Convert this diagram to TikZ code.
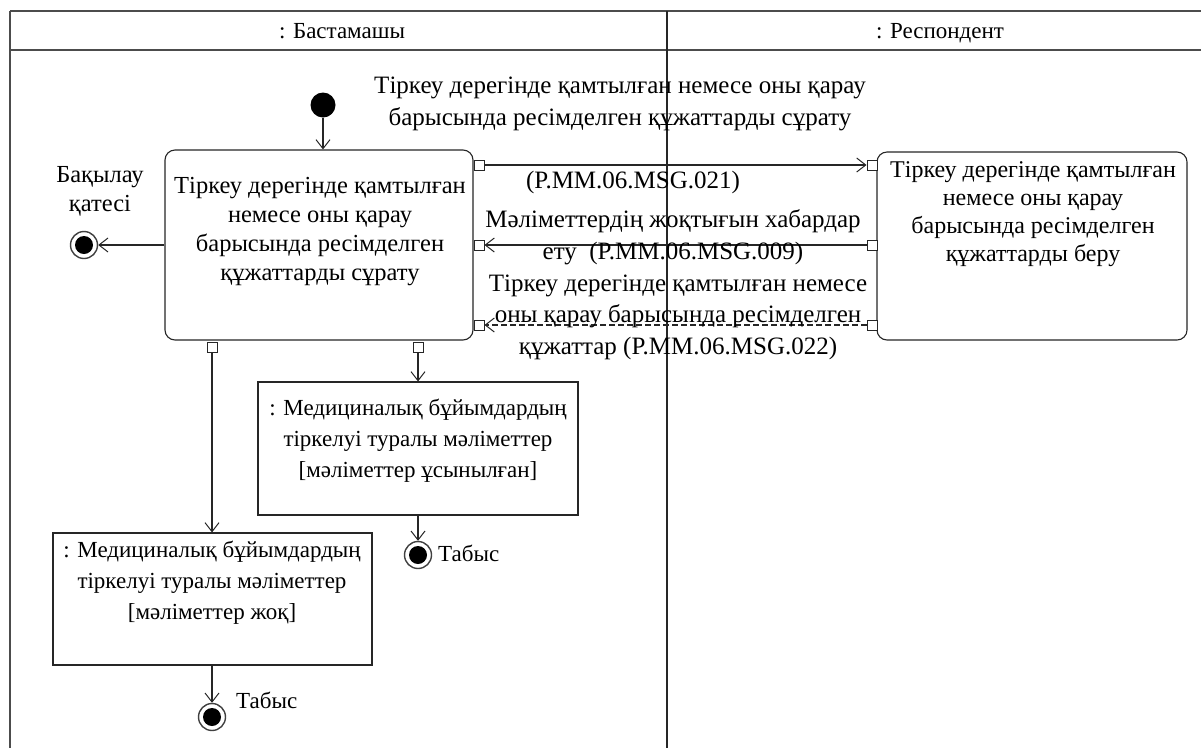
\documentclass[tikz,border=0pt]{standalone}
\usepackage{fontspec}
\setmainfont{Liberation Serif}
\usetikzlibrary{arrows.meta}
\begin{document}
\begin{tikzpicture}[x=1pt,y=-1pt,
  ln/.style={draw=black!85, line width=1.1pt},
  arr/.style={ln, -{Straight Barb[length=9pt,width=14pt,line width=1pt]}},
  actbox/.style={ln, rounded corners=10pt, fill=white, inner sep=0pt},
  objbox/.style={ln, fill=white, inner sep=0pt},
  pin/.style={draw=black!85, line width=1pt, fill=white, minimum size=10pt, inner sep=0pt},
  txt/.style={font=\fontsize{24.5}{29}\selectfont, align=center, inner sep=0pt},
  btxt/.style={font=\fontsize{24}{28}\selectfont, align=center, inner sep=0pt},
  mtxt/.style={font=\fontsize{25}{31.5}\selectfont, align=center, inner sep=0pt},
  otxt/.style={font=\fontsize{23}{31}\selectfont, align=center, inner sep=0pt},
  hdr/.style={font=\fontsize{23}{26}\selectfont, inner sep=0pt, anchor=base},
  finalo/.style={circle, draw=black!75, line width=1.4pt, fill=white, minimum size=27pt, inner sep=0pt},
  finali/.style={circle, fill=black, minimum size=18pt, inner sep=0pt},
  initn/.style={circle, fill=black, minimum size=25pt, inner sep=0pt}
]
\useasboundingbox (0,0) rectangle (1201,748);
% swimlane frame
\coordinate (tl) at (10,11);
\coordinate (tr) at (1201,11);
\coordinate (hl) at (10,50);
\coordinate (hr) at (1201,50);
\coordinate (bl) at (10,748);
\coordinate (dt) at (667,11);
\coordinate (db) at (667,748);
\draw[ln, line width=1.4pt, draw=black!70] (tl) -- (tr);
\draw[ln, line width=1.4pt, draw=black!70] (hl) -- (hr);
\draw[ln, line width=1.4pt, draw=black!70] (tl) -- (bl);
\draw[ln, line width=1.2pt] (dt) -- (db);
\node[hdr] (h1) at (342,38) {: Бастамашы};
\node[hdr] (h2) at (940,38) {: Респондент};

% initial node
\node[initn] (I) at (323,105) {};
% activity A
\node[actbox, minimum width=308pt, minimum height=190pt] (A) at (319,245) {};
\node[txt] (At) at (320,232) {Тіркеу дерегінде қамтылған\\немесе оны қарау\\барысында ресімделген\\құжаттарды сұрату};
% activity B
\node[actbox, minimum width=310pt, minimum height=188pt] (B) at (1032,246) {};
\node[btxt] (Bt) at (1033,214) {Тіркеу дерегінде қамтылған\\немесе оны қарау\\барысында ресімделген\\құжаттарды беру};

% pins
\node[pin] (pa1) at (479,165) {};
\node[pin] (pa2) at (479,245) {};
\node[pin] (pa3) at (479,325) {};
\node[pin] (pb1) at (872,165) {};
\node[pin] (pb2) at (872,245) {};
\node[pin] (pb3) at (872,325) {};
\node[pin] (pc) at (212,347) {};
\node[pin] (pd) at (418,347) {};

% final left
\node[finalo] (F1) at (84,245) {};
\node[finali] (F1i) at (84,245) {};
\node[txt] (F1t) at (100,191) {Бақылау\\қатесі};

\draw[arr] (I) -- (A.north -| I);
\draw[arr] (A.west |- F1) -- (F1);

% messages
\draw[arr] (pa1) -- (pb1);
\draw[arr] (pb2) -- (pa2);
\draw[arr, dashed, dash pattern=on 6pt off 3pt] (pb3) -- (pa3);
\node[mtxt] (m1) at (620,104) {Тіркеу дерегінде қамтылған немесе оны қарау\\барысында ресімделген құжаттарды сұрату};
\node[mtxt] (m1b) at (633,182) {(P.MM.06.MSG.021)};
\node[mtxt] (m2) at (673,237) {Мәліметтердің жоқтығын хабардар\\ету\ \ (P.MM.06.MSG.009)};
\node[mtxt] (m3) at (678,317) {Тіркеу дерегінде қамтылған немесе\\оны қарау барысында ресімделген\\құжаттар (P.MM.06.MSG.022)};

% object D
\node[objbox, minimum width=320pt, minimum height=133pt] (D) at (418,448.5) {};
\node[otxt] (Dt) at (418,441) {: Медициналық бұйымдардың\\тіркелуі туралы мәліметтер\\{}[мәліметтер ұсынылған]};
% object C
\node[objbox, minimum width=319pt, minimum height=132pt] (C) at (212.5,599) {};
\node[otxt] (Ct) at (212,583) {: Медициналық бұйымдардың\\тіркелуі туралы мәліметтер\\{}[мәліметтер жоқ]};

\draw[arr] (pc) -- (C.north -| pc);
\draw[arr] (pd) -- (D.north -| pd);

% finals bottom
\node[finalo] (F2) at (418,555) {};
\node[finali] (F2i) at (418,555) {};
\node[otxt, anchor=west] (F2t) at (438,553) {Табыс};
\node[finalo] (F3) at (212,717) {};
\node[finali] (F3i) at (212,717) {};
\node[otxt, anchor=west] (F3t) at (236,700) {Табыс};

\draw[arr] (D.south -| F2) -- (F2);
\draw[arr] (C.south -| F3) -- (F3);
\end{tikzpicture}
\end{document}
